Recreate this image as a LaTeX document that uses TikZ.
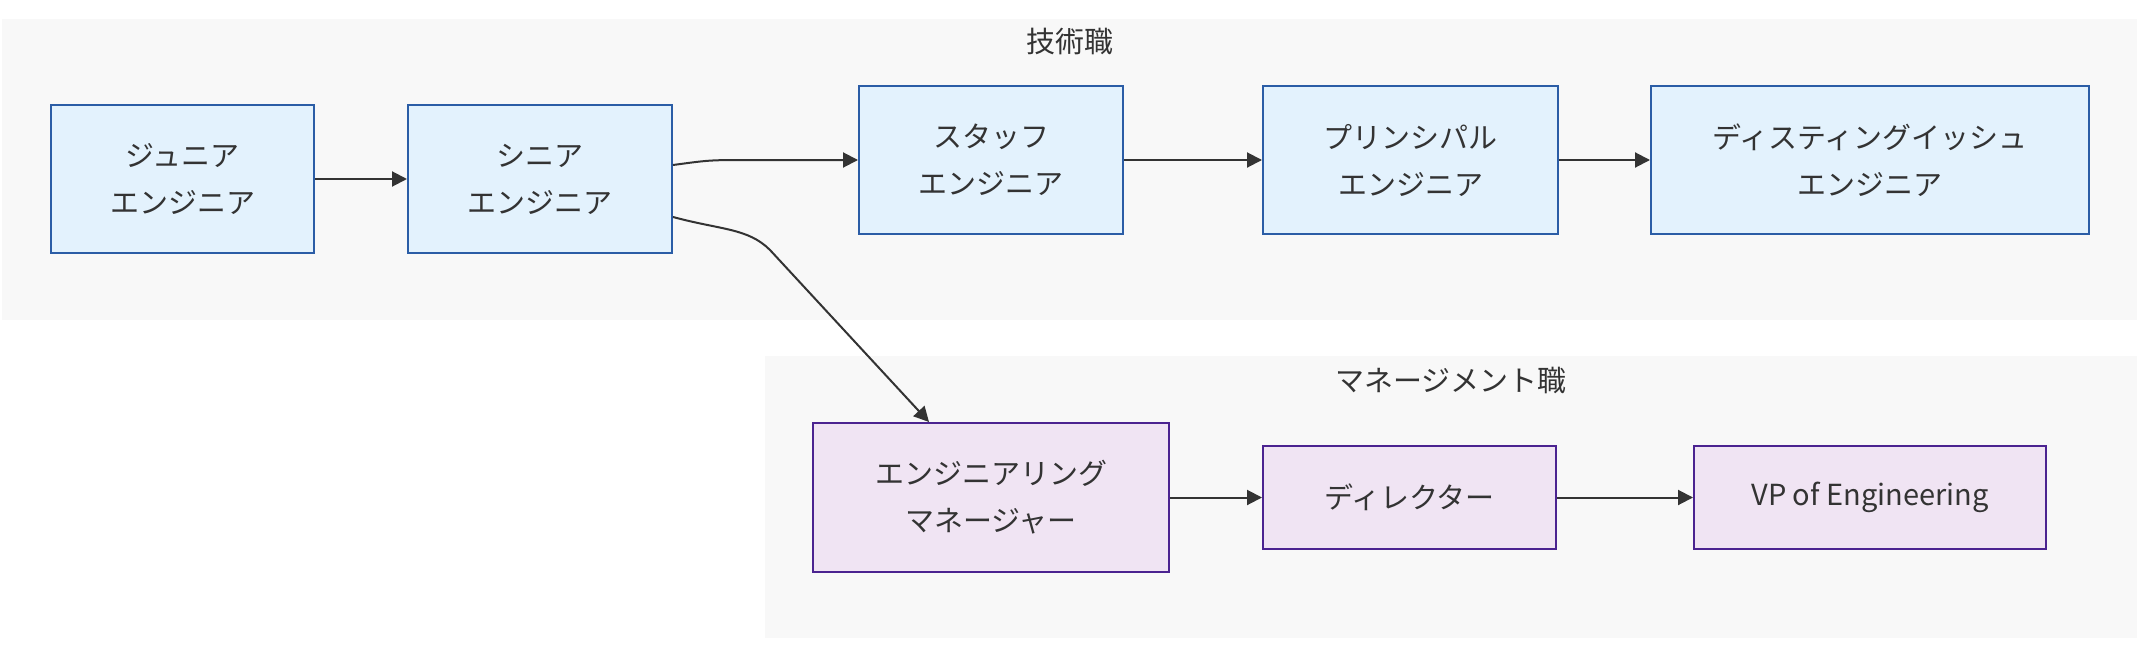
\documentclass[tikz,border=0pt]{standalone}
\usepackage{fontspec}
\setmainfont{Noto Sans CJK JP}
\usetikzlibrary{arrows.meta}
\definecolor{techfill}{HTML}{E3F2FD}
\definecolor{techline}{HTML}{2B5DA6}
\definecolor{mgmtfill}{HTML}{F0E4F3}
\definecolor{mgmtline}{HTML}{4B2390}
\definecolor{clfill}{HTML}{F8F8F8}
\definecolor{txt}{HTML}{333333}
\definecolor{edgec}{HTML}{333333}
\begin{document}
\begin{tikzpicture}[x=1pt,y=-1pt,
  base/.style={line width=2pt, align=center, text=txt, inner sep=0pt,
    font=\fontsize{29}{47}\selectfont},
  tech/.style={base, draw=techline, fill=techfill},
  mgmt/.style={base, draw=mgmtline, fill=mgmtfill},
  cluster/.style={fill=clfill, draw=none, inner sep=0pt},
  cltitle/.style={text=txt, inner sep=0pt, font=\fontsize{29}{35}\selectfont},
  edge/.style={draw=edgec, line width=2pt, -{Triangle[length=15pt,width=15pt]}}
]
\useasboundingbox (0,0) rectangle (2154,658);
% clusters
\node[cluster, minimum width=2135pt, minimum height=301pt] (techcl) at (1069.5,169.5) {};
\node[cluster, minimum width=1372pt, minimum height=282pt] (mgmtcl) at (1451,497) {};
\node[cltitle] (techtitle) at (1069.5,41) {技術職};
\node[cltitle] (mgmttitle) at (1451,380) {マネージメント職};
% tech nodes
\node[tech, minimum width=263pt, minimum height=148pt] (jr) at (182.5,179) {ジュニア\\エンジニア};
\node[tech, minimum width=264pt, minimum height=148pt] (sr) at (540,179) {シニア\\エンジニア};
\node[tech, minimum width=264pt, minimum height=148pt] (staff) at (991,160) {スタッフ\\エンジニア};
\node[tech, minimum width=295pt, minimum height=148pt] (prin) at (1410.5,160) {プリンシパル\\エンジニア};
\node[tech, minimum width=438pt, minimum height=148pt] (dist) at (1870,160) {ディスティングイッシュ\\エンジニア};
% management nodes
\node[mgmt, minimum width=356pt, minimum height=149pt] (em) at (991,497.5) {エンジニアリング\\マネージャー};
\node[mgmt, minimum width=293pt, minimum height=103pt] (dir) at (1409.5,497.5) {ディレクター};
\node[mgmt, minimum width=352pt, minimum height=103pt] (vp) at (1870,497.5) {VP of Engineering};
% edges
\coordinate (bend) at (770,250);
\draw[edge] (jr) -- (sr);
\draw[edge] ([yshift=14pt]sr.east) .. controls +(30,-4) and +(-30,0) .. ([xshift=-120pt]staff.west) -- (staff.west);
\draw[edge] ([yshift=-38pt]sr.east) .. controls +(48,13) and +(-22,-22) .. (bend) -- ([xshift=-62pt]em.north);
\draw[edge] (staff) -- (prin);
\draw[edge] (prin) -- (dist);
\draw[edge] (em) -- (dir);
\draw[edge] (dir) -- (vp);
\end{tikzpicture}
\end{document}
